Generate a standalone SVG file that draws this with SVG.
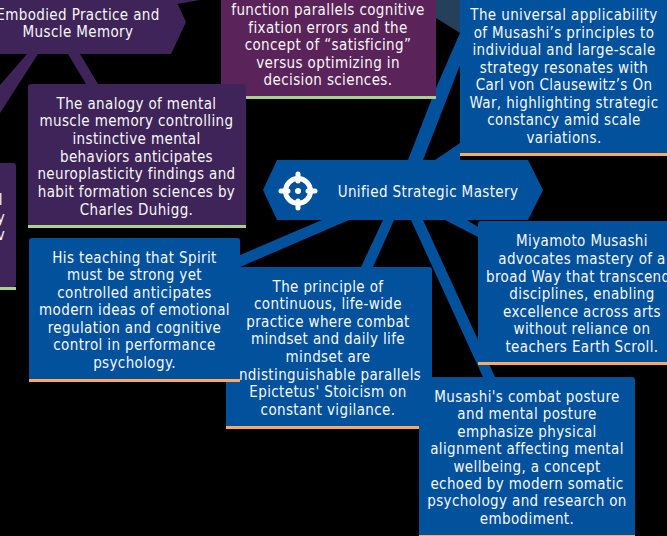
<svg xmlns="http://www.w3.org/2000/svg" width="667" height="536" viewBox="0 0 667 536">
<style>
text{font-family:"DejaVu Sans",sans-serif;font-stretch:condensed;font-size:15px;letter-spacing:.38px;fill:#f8f8f8;text-anchor:middle}
.b{fill:#01519c}.p{fill:#3f2459}.m{fill:#5a2359}
.o{fill:#ffa95c}.g{fill:#a9d18e}
</style>
<rect width="667" height="536" fill="#000"/>
<g id="connectors">
<path class="p" d="M177 4L200 0H171Z"/>
<path class="p" d="M27 54H38L0 113V85Z"/>
<path class="p" d="M68 54H80L98 84H86Z"/>
<path fill="#24405a" d="M436 0H460V33L436 18Z"/>
<path class="b" d="M408 160H423L460 65V33L436 88Z"/>
<path class="b" d="M435 160L460 143V160Z"/>
<path class="b" d="M322 220H349L240 267V255Z"/>
<path class="b" d="M383 220H394L373 267H361Z"/>
<path class="b" d="M411 220H423L495 377H483Z"/>
<path class="b" d="M445 220H467L478 227V237Z"/>
</g>
<g id="node-left"><rect class="p" x="-100" y="163" width="116" height="124" rx="3"/><rect class="g" x="-100" y="287" width="116" height="3"/><text x="3" y="205" style="text-anchor:end">l</text><text x="5" y="223" style="text-anchor:end">y</text><text x="5" y="240" style="text-anchor:end">v</text></g>
<g id="node-embodied"><path class="p" d="M-20 -10H171L186 22L171 54H-20Z"/><text x="78" y="20">Embodied Practice and</text><text x="78" y="37">Muscle Memory</text></g>
<g id="node-fixation"><rect class="m" x="221" y="-40" width="215" height="136"/><rect class="g" x="221" y="96" width="215" height="3"/>
<text x="328" y="15">function parallels cognitive</text><text x="328" y="32.500">fixation errors and the</text><text x="328" y="50">concept of “satisficing”</text><text x="328" y="67.500">versus optimizing in</text><text x="328" y="85">decision sciences.</text></g>
<g id="node-muscle"><rect class="p" x="28" y="84" width="218" height="144" rx="3"/><rect class="g" x="28" y="225" width="218" height="3"/>
<text x="136.500" y="108.500">The analogy of mental</text><text x="136.500" y="126">muscle memory controlling</text><text x="136.500" y="144">instinctive mental</text><text x="136.500" y="161.500">behaviors anticipates</text><text x="136.500" y="179">neuroplasticity findings and</text><text x="136.500" y="197">habit formation sciences by</text><text x="136.500" y="215">Charles Duhigg.</text></g>
<g id="node-clausewitz"><rect class="b" x="460" y="-20" width="220" height="173"/><rect class="o" x="460" y="153" width="220" height="3"/>
<text x="564" y="20">The universal applicability</text><text x="564" y="37.500">of Musashi’s principles to</text><text x="564" y="55">individual and large-scale</text><text x="564" y="72.500">strategy resonates with</text><text x="564" y="90">Carl von Clausewitz’s On</text><text x="564" y="107.500">War, highlighting strategic</text><text x="564" y="125">constancy amid scale</text><text x="564" y="142.500">variations.</text></g>
<g id="node-center"><path class="b" d="M263 190L277 160H528L543 190L528 220H277Z"/>
<g fill="none" stroke="#fff"><circle cx="298" cy="191" r="12.500" stroke-width="5"/><path stroke-width="5" stroke-linecap="round" d="M298 174V181M298 201V208M281 191H288M308 191H315"/></g><circle cx="298" cy="191" r="3" fill="#fff"/>
<text x="428" y="196.500">Unified Strategic Mastery</text></g>
<g id="node-continuous"><rect class="b" x="226" y="267" width="206" height="162" rx="3"/><rect class="o" x="226" y="426" width="206" height="3"/>
<text x="328" y="291.500">The principle of</text><text x="328" y="309">continuous, life-wide</text><text x="328" y="327">practice where combat</text><text x="328" y="344">mindset and daily life</text><text x="328" y="362">mindset are</text><text x="328" y="379.500">indistinguishable parallels</text><text x="328" y="397">Epictetus' Stoicism on</text><text x="328" y="415">constant vigilance.</text></g>
<g id="node-spirit"><rect class="b" x="29" y="238" width="211" height="144" rx="3"/><rect class="o" x="29" y="379" width="211" height="3"/>
<text x="134.500" y="262.500">His teaching that Spirit</text><text x="134.500" y="280">must be strong yet</text><text x="134.500" y="297.500">controlled anticipates</text><text x="134.500" y="315">modern ideas of emotional</text><text x="134.500" y="332.500">regulation and cognitive</text><text x="134.500" y="350">control in performance</text><text x="134.500" y="367.500">psychology.</text></g>
<g id="node-miyamoto"><rect class="b" x="478" y="221" width="220" height="144" rx="3"/><rect class="o" x="478" y="362" width="220" height="3"/>
<text x="582" y="246">Miyamoto Musashi</text><text x="582" y="264">advocates mastery of a</text><text x="582" y="281.500">broad Way that transcends</text><text x="582" y="299">disciplines, enabling</text><text x="582" y="316.500">excellence across arts</text><text x="582" y="334">without reliance on</text><text x="582" y="351.500">teachers Earth Scroll.</text></g>
<g id="node-posture"><rect class="b" x="419" y="377" width="216" height="162" rx="3"/><rect class="o" x="419" y="535" width="216" height="3"/>
<text x="527" y="401.500">Musashi's combat posture</text><text x="527" y="419">and mental posture</text><text x="527" y="436.500">emphasize physical</text><text x="527" y="454">alignment affecting mental</text><text x="527" y="471.500">wellbeing, a concept</text><text x="527" y="489">echoed by modern somatic</text><text x="527" y="506">psychology and research on</text><text x="527" y="523.500">embodiment.</text></g>
</svg>
